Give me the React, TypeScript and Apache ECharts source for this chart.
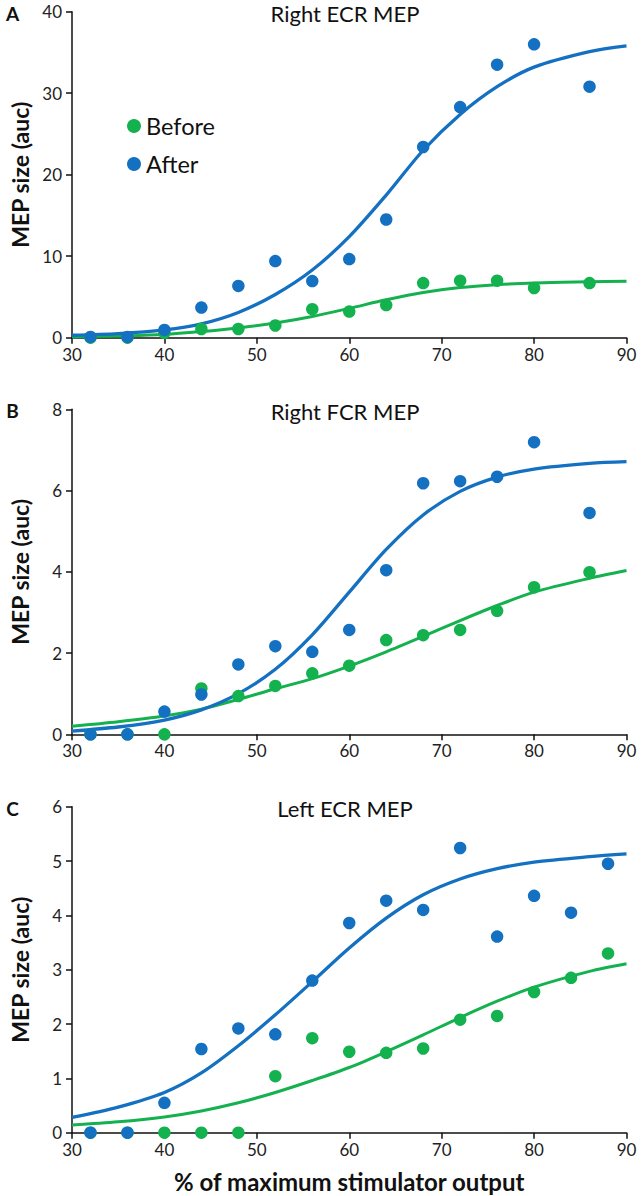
import React, { useEffect, useRef } from "react";
import * as echarts from "echarts";

// ---- data ----
const stimAB = [32, 36, 40, 44, 48, 52, 56, 60, 64, 68, 72, 76, 80, 86];
const stimC = [32, 36, 40, 44, 48, 52, 56, 60, 64, 68, 72, 76, 80, 84, 88];

const beforeA = [0, 0, 0.6, 1.07, 1.07, 1.5, 3.5, 3.2, 4.0, 6.7, 7.0, 7.0, 6.1, 6.7];
const afterA = [0.1, 0.1, 0.95, 3.7, 6.35, 9.4, 6.95, 9.65, 14.5, 23.4, 28.3, 33.5, 36.0, 30.8];
const beforeB = [0, 0, 0, 1.13, 0.94, 1.19, 1.5, 1.69, 2.32, 2.44, 2.57, 3.04, 3.62, 3.99];
const afterB = [0, 0, 0.56, 0.98, 1.72, 2.17, 2.03, 2.57, 4.04, 6.18, 6.23, 6.34, 7.19, 5.45];
const beforeC = [0, 0, 0, 0, 0, 1.04, 1.74, 1.49, 1.47, 1.55, 2.08, 2.15, 2.59, 2.85, 3.3];
const afterC = [0, 0, 0.55, 1.54, 1.92, 1.81, 2.8, 3.86, 4.27, 4.1, 5.24, 3.61, 4.36, 4.05, 4.95];

// fitted curves
const fitX = [30, 35, 40, 44, 48, 52, 56, 60, 64, 68, 72, 76, 80, 86, 90];
const fitBeforeA = [0.1, 0.22, 0.4, 0.75, 1.2, 1.8, 2.6, 3.6, 4.65, 5.55, 6.15, 6.5, 6.72, 6.88, 6.93];
const fitAfterA = [0.3, 0.5, 0.95, 1.7, 3.1, 5.3, 8.3, 12.4, 17.5, 23.0, 27.4, 30.8, 33.2, 35.1, 35.8];
const fitBeforeB = [0.2, 0.31, 0.45, 0.62, 0.86, 1.12, 1.37, 1.68, 2.03, 2.41, 2.8, 3.17, 3.5, 3.84, 4.03];
const fitAfterB = [0.08, 0.18, 0.35, 0.6, 1.0, 1.6, 2.45, 3.5, 4.55, 5.4, 5.98, 6.33, 6.53, 6.67, 6.71];
const fitBeforeC = [0.14, 0.2, 0.29, 0.4, 0.55, 0.74, 0.96, 1.2, 1.49, 1.8, 2.12, 2.42, 2.68, 2.97, 3.11];
const fitAfterC = [0.28, 0.47, 0.74, 1.1, 1.6, 2.17, 2.78, 3.4, 3.95, 4.38, 4.67, 4.86, 4.98, 5.08, 5.13];

const titles = ["Right ECR MEP", "Right FCR MEP", "Left ECR MEP"];
const letters = ["A", "B", "C"];
const yMax = [40, 8, 6];
const yInterval = [10, 2, 1];
const xTicks = { min: 30, max: 90, interval: 10 };
const legendNames = ["Before", "After"];
const xTitle = "% of maximum stimulator output";
const yTitle = "MEP size (auc)";

const GREEN = "#14b14f";
const BLUE = "#1470c0";
const FONT = "Lato, 'Open Sans', sans-serif";

const pairs = (xs: number[], ys: number[]) => xs.map((x, i) => [x, ys[i]]);

export default function App() {
  const ref = useRef<HTMLDivElement>(null);
  useEffect(() => {
    if (!ref.current) return;
    const chart = echarts.init(ref.current, undefined, { renderer: "svg" });
    const grids = [
      { left: 61, right: 14.5, top: 11.7, height: 326 },
      { left: 61, right: 14.5, top: 409.3, height: 325 },
      { left: 61, right: 14.5, top: 806.7, height: 326 },
    ];
    const panels = [
      { x: stimAB, b: beforeA, a: afterA, fb: fitBeforeA, fa: fitAfterA },
      { x: stimAB, b: beforeB, a: afterB, fb: fitBeforeB, fa: fitAfterB },
      { x: stimC, b: beforeC, a: afterC, fb: fitBeforeC, fa: fitAfterC },
    ];
    const axisLine = { show: true, lineStyle: { color: "#111", width: 1.5 } };
    const axisTick = { show: true, inside: false, length: 6, lineStyle: { color: "#111", width: 1.5 } };
    const series: any[] = [];
    panels.forEach((p, i) => {
      series.push({
        name: "Before fit", type: "line", xAxisIndex: i, yAxisIndex: i,
        data: pairs(fitX, p.fb), smooth: 0.3, showSymbol: false,
        lineStyle: { color: GREEN, width: 3 }, itemStyle: { color: GREEN }, z: 2,
      });
      series.push({
        name: "After fit", type: "line", xAxisIndex: i, yAxisIndex: i,
        data: pairs(fitX, p.fa), smooth: 0.3, showSymbol: false,
        lineStyle: { color: BLUE, width: 3.3 }, itemStyle: { color: BLUE }, z: 2,
      });
      series.push({
        name: "Before", type: "scatter", xAxisIndex: i, yAxisIndex: i,
        data: pairs(p.x, p.b), symbolSize: 12.5, clip: false,
        itemStyle: { color: GREEN, opacity: 1 }, z: 3,
      });
      series.push({
        name: "After", type: "scatter", xAxisIndex: i, yAxisIndex: i,
        data: pairs(p.x, p.a), symbolSize: 12.5, clip: false,
        itemStyle: { color: BLUE, opacity: 1 }, z: 4,
      });
    });
    const graphic: any[] = [];
    grids.forEach((g, i) => {
      graphic.push({
        type: "text", x: 345, y: g.top + 2,
        style: { text: titles[i], font: `22px ${FONT}`, fill: "#111", textAlign: "center", textVerticalAlign: "middle" },
      });
      graphic.push({
        type: "text", x: 12.5, y: g.top + 1.5,
        style: { text: letters[i], font: `bold 19px ${FONT}`, fill: "#111", textAlign: "center", textVerticalAlign: "middle" },
      });
    });
    chart.setOption({
      animation: false,
      textStyle: { fontFamily: FONT },
      grid: grids,
      legend: {
        data: legendNames, orient: "vertical", left: 127, top: 114, padding: 0,
        icon: "circle", itemWidth: 14, itemHeight: 14, itemGap: 14,
        textStyle: { fontSize: 23.5, color: "#111", fontFamily: FONT },
        selectedMode: false,
      },
      xAxis: grids.map((_, i) => ({
        type: "value", gridIndex: i, min: xTicks.min, max: xTicks.max, interval: xTicks.interval,
        axisLine, axisTick, splitLine: { show: false },
        axisLabel: { fontSize: 17, color: "#222", margin: 8, fontFamily: FONT },
        name: i === 2 ? xTitle : "", nameLocation: "middle", nameGap: 37,
        nameTextStyle: { fontSize: 24, fontWeight: "bold", color: "#111", fontFamily: FONT },
      })),
      yAxis: grids.map((_, i) => ({
        type: "value", gridIndex: i, min: 0, max: yMax[i], interval: yInterval[i],
        axisLine, axisTick, splitLine: { show: false },
        axisLabel: { fontSize: 17, color: "#222", margin: 10, fontFamily: FONT },
        name: yTitle, nameLocation: "middle", nameGap: 41,
        nameTextStyle: { fontSize: 23, fontWeight: "bold", color: "#111", fontFamily: FONT },
      })),
      series,
      graphic,
    });
    return () => chart.dispose();
  }, []);
  return <div ref={ref} style={{ position: "absolute", left: 0, top: 0, width: 641, height: 1196 }} />;
}
